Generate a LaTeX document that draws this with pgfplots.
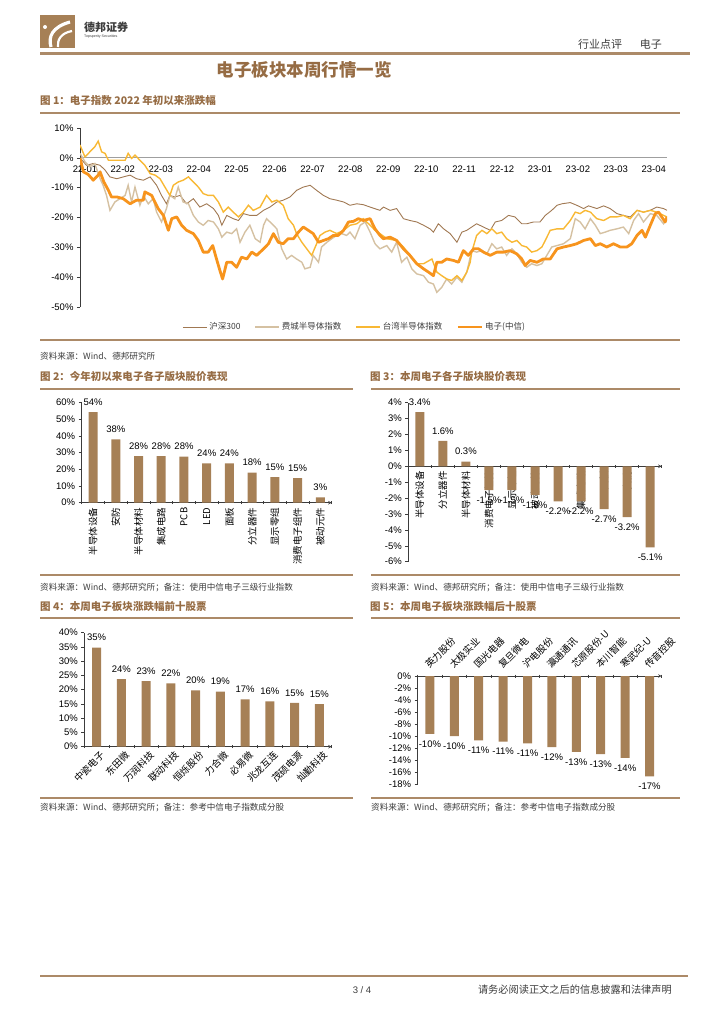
\documentclass[border=0pt]{standalone}
\usepackage{fontspec}
\setmainfont{Liberation Sans}
\newfontfamily\cjk{Noto Sans CJK SC}
\usepackage{pgfplots}
\pgfplotsset{compat=1.18}

\definecolor{barbrown}{RGB}{166,128,86}
\definecolor{rulebrown}{RGB}{172,138,104}
\definecolor{capbrown}{RGB}{150,108,68}
\definecolor{hsline}{RGB}{160,120,82}
\definecolor{feline}{RGB}{213,193,162}
\definecolor{twline}{RGB}{248,184,52}
\definecolor{dzline}{RGB}{247,148,29}
\definecolor{txtgray}{RGB}{60,60,60}

\newcommand{\tf}{\fontsize{9.5}{11}\selectfont}
\newcommand{\cjklab}{\cjk\fontsize{9.5}{10}\selectfont}
\newcommand{\srcf}{\cjk\fontsize{8.6}{10}\selectfont}
\newcommand{\capf}{\cjk\bfseries\fontsize{10.5}{12}\selectfont}

\pgfplotsset{
  barchart/.style={
    scale only axis, anchor=south west, clip=false,
    ybar, bar width=9pt, bar shift=0pt,
    axis y line=left,
    axis line style={-, draw=txtgray, line width=0.6pt},
    tick style={draw=txtgray, line width=0.5pt},
    tick align=outside, major tick length=3pt, minor tick length=3pt,
    every major x tick/.style={draw=none},
    hide obscured x ticks=false, hide obscured y ticks=false,
    tick label style={font=\tf},
    /pgf/number format/assume math mode=true,
    every node near coord/.append style={font=\tf, inner ysep=6.5pt},
  }
}

\begin{document}
\begin{tikzpicture}
\path[use as bounding box] (0pt,0pt) rectangle (724pt,-1024pt);

\begin{scope}[x=1pt,y=-1pt]
  % header
  \fill[barbrown] (40,15) rectangle (75,48);
  \draw[white, line width=3.2pt] (51,47) .. controls (48,37) and (52,27) .. (70,22);
  \draw[white, line width=2.2pt] (58,47) .. controls (57,40) and (61,33) .. (72,31);
  \fill[white] (45,27) circle (2pt);
  \node[anchor=west, font=\cjk\bfseries\fontsize{11}{12}\selectfont, text=txtgray, inner sep=0pt] at (84,27) {德邦证券};
  \node[anchor=west, font=\fontsize{3.6}{4}\selectfont, text=txtgray, inner sep=0pt] at (84,37) {Topsperity Securities};
  \node[anchor=east, font=\cjk\fontsize{11}{12}\selectfont, text=txtgray, inner sep=0pt] at (662,44) {行业点评\hspace{1.6em}电子};
  \draw[rulebrown, line width=2.6pt] (40,53.5) -- (690,53.5);
  \node[font=\cjk\bfseries\fontsize{17.5}{19}\selectfont, text=capbrown] at (304,70) {电子板块本周行情一览};

  % captions and rules
  \node[anchor=west, font=\capf, text=capbrown, inner sep=0pt] at (40,101) {图 1：电子指数 2022 年初以来涨跌幅};
  \draw[rulebrown, line width=1.2pt] (40,113) -- (680,113);
  \draw[rulebrown, line width=1.5pt] (40,340) -- (680,340);
  \node[anchor=west, font=\srcf, text=txtgray, inner sep=0pt] at (40,356) {资料来源：Wind、德邦研究所};

  \node[anchor=west, font=\capf, text=capbrown, inner sep=0pt] at (40,377) {图 2：今年初以来电子各子版块股价表现};
  \node[anchor=west, font=\capf, text=capbrown, inner sep=0pt] at (370,377) {图 3：本周电子各子版块股价表现};
  \draw[rulebrown, line width=1.2pt] (40,389) -- (353,389);
  \draw[rulebrown, line width=1.2pt] (371,389) -- (680,389);
  \draw[rulebrown, line width=1.2pt] (40,575) -- (353,575);
  \draw[rulebrown, line width=1.2pt] (371,575) -- (680,575);
  \node[anchor=west, font=\srcf, text=txtgray, inner sep=0pt] at (40,588) {资料来源：Wind、德邦研究所；备注：使用中信电子三级行业指数};
  \node[anchor=west, font=\srcf, text=txtgray, inner sep=0pt] at (371,588) {资料来源：Wind、德邦研究所；备注：使用中信电子三级行业指数};

  \node[anchor=west, font=\capf, text=capbrown, inner sep=0pt] at (40,607) {图 4：本周电子板块涨跌幅前十股票};
  \node[anchor=west, font=\capf, text=capbrown, inner sep=0pt] at (370,607) {图 5：本周电子板块涨跌幅后十股票};
  \draw[rulebrown, line width=1.2pt] (40,618) -- (353,618);
  \draw[rulebrown, line width=1.2pt] (371,618) -- (680,618);
  \draw[rulebrown, line width=1.2pt] (40,798) -- (353,798);
  \draw[rulebrown, line width=1.2pt] (371,798) -- (680,798);
  \node[anchor=west, font=\srcf, text=txtgray, inner sep=0pt] at (40,808) {资料来源：Wind、德邦研究所；备注：参考中信电子指数成分股};
  \node[anchor=west, font=\srcf, text=txtgray, inner sep=0pt] at (371,808) {资料来源：Wind、德邦研究所；备注：参考中信电子指数成分股};

  % footer
  \draw[rulebrown, line width=2.2pt] (40,976) -- (688,976);
  \node[font=\tf, text=txtgray] at (362,990) {3 / 4};
  \node[anchor=east, font=\cjk\fontsize{10.2}{12}\selectfont, text=txtgray, inner sep=0pt] at (672,990) {请务必阅读正文之后的信息披露和法律声明};
\end{scope}

% ---------- figure 1: index lines ----------
\begin{axis}[
  at={(80pt,-307pt)}, anchor=south west, scale only axis,
  width=587pt, height=179pt,
  xmin=-0.13, xmax=15.35, ymin=-50, ymax=10,
  axis x line=middle, axis y line=left,
  axis line style={-},
  x axis line style={draw=gray!75, line width=1.3pt},
  y axis line style={draw=txtgray, line width=0.6pt},
  hide obscured x ticks=false, hide obscured y ticks=false,
  xtick={0,...,15},
  xticklabels={22-01,22-02,22-03,22-04,22-05,22-06,22-07,22-08,22-09,22-10,22-11,22-12,23-01,23-02,23-03,23-04},
  ytick={-50,-40,...,10},
  yticklabels={-50\%,-40\%,-30\%,-20\%,-10\%,0\%,10\%},
  every major x tick/.style={draw=none},
  tick style={draw=txtgray, line width=0.5pt},
  tick align=outside, major tick length=3pt,
  tick label style={font=\tf},
  xticklabel style={yshift=-1pt},
  legend columns=4,
  legend style={at={(0.468,-0.112)}, anchor=center, draw=none, fill=none,
    font=\cjk\fontsize{8.5}{9}\selectfont, text=txtgray,
    /tikz/every even column/.append style={column sep=12pt}},
  legend image code/.code={\draw[#1] (0pt,0pt) -- (24pt,0pt);},
]
\addplot[hsline, line width=0.9pt] coordinates {
(-0.13,0) (0.04,-2.5) (0.22,-1.9) (0.40,-2.5) (0.53,-4.1) (0.66,-6.4) (0.84,-7.0) (1.01,-6.4)
(1.19,-5.8) (1.36,-7.0) (1.54,-7.5) (1.72,-6.4) (1.89,-9.2) (2.02,-12.6) (2.15,-15.4) (2.24,-12.6)
(2.37,-13.1) (2.51,-12.6) (2.68,-15.4) (2.86,-13.7) (3.03,-16.5) (3.21,-15.4) (3.39,-17.0) (3.52,-19.3)
(3.61,-22.6) (3.74,-19.3) (3.91,-20.4) (4.05,-21.0) (4.18,-18.7) (4.35,-19.3) (4.53,-19.3) (4.71,-17.6)
(4.88,-16.5) (5.06,-14.8) (5.23,-14.2) (5.41,-13.1) (5.58,-10.9) (5.76,-9.8) (5.94,-9.2) (6.11,-10.9)
(6.29,-12.6) (6.46,-13.7) (6.64,-14.2) (6.82,-14.8) (6.99,-15.9) (7.17,-15.4) (7.34,-15.7) (7.52,-16.5)
(7.78,-17.6) (7.87,-16.5) (8.05,-17.6) (8.22,-17.0) (8.40,-20.4) (8.57,-21.0) (8.75,-21.5) (8.93,-22.6)
(9.10,-23.8) (9.19,-24.9) (9.32,-22.1) (9.46,-23.8) (9.63,-25.4) (9.81,-28.3) (9.94,-24.9) (10.07,-24.3)
(10.20,-23.2) (10.33,-22.1) (10.51,-23.2) (10.69,-24.3) (10.82,-21.5) (10.99,-21.0) (11.17,-19.3) (11.34,-19.8)
(11.52,-22.1) (11.65,-22.1) (11.83,-21.5) (12.00,-21.5) (12.14,-19.3) (12.31,-17.6) (12.45,-15.9) (12.58,-15.4)
(12.80,-15.0) (12.97,-15.9) (13.15,-17.0) (13.28,-16.1) (13.50,-17.0) (13.68,-16.1) (13.85,-17.0) (14.03,-18.7)
(14.20,-19.3) (14.38,-19.8) (14.56,-17.6) (14.73,-18.2) (14.91,-17.6) (15.08,-16.5) (15.26,-17.0) (15.35,-17.6)
};
\addlegendentry{沪深300}
\addplot[feline, line width=1.4pt] coordinates {
(-0.13,1.5) (0,-1.3) (0.13,-3.0) (0.26,-1.9) (0.40,-7.0) (0.48,-9.2) (0.57,-12.6) (0.66,-17.6)
(0.79,-14.8) (0.92,-13.7) (1.06,-12.6) (1.14,-9.2) (1.23,-14.8) (1.32,-9.8) (1.45,-15.9) (1.54,-12.6)
(1.67,-15.4) (1.80,-13.7) (1.89,-18.2) (2.02,-21.5) (2.15,-17.0) (2.24,-12.6) (2.37,-13.7) (2.46,-9.8)
(2.59,-14.8) (2.73,-15.4) (2.86,-19.3) (2.99,-21.5) (3.12,-22.6) (3.25,-21.0) (3.39,-21.5) (3.52,-23.8)
(3.61,-26.6) (3.74,-24.9) (3.87,-25.4) (4.00,-23.8) (4.09,-28.3) (4.22,-24.9) (4.35,-22.6) (4.49,-27.1)
(4.62,-28.3) (4.71,-22.6) (4.79,-20.4) (4.93,-22.1) (5.06,-23.8) (5.19,-30.5) (5.32,-33.9) (5.45,-32.7)
(5.58,-33.9) (5.72,-35.0) (5.80,-37.2) (5.94,-36.7) (6.02,-32.7) (6.16,-35.0) (6.24,-29.9) (6.38,-28.3)
(6.51,-27.1) (6.64,-26.0) (6.77,-25.4) (6.90,-26.0) (6.99,-24.9) (7.12,-27.1) (7.26,-22.6) (7.39,-21.5)
(7.52,-24.9) (7.65,-28.8) (7.78,-30.5) (7.96,-29.4) (8.09,-31.6) (8.22,-28.3) (8.35,-35.0) (8.49,-33.3)
(8.62,-37.2) (8.75,-38.9) (8.93,-39.5) (9.06,-41.7) (9.19,-42.3) (9.28,-45.1) (9.41,-43.4) (9.54,-40.6)
(9.67,-42.3) (9.81,-40.0) (9.94,-41.7) (10.07,-38.3) (10.20,-31.1) (10.33,-31.6) (10.47,-31.1) (10.60,-32.2)
(10.73,-28.8) (10.86,-30.5) (10.99,-29.9) (11.12,-32.7) (11.26,-30.5) (11.39,-32.2) (11.52,-35.0) (11.65,-36.7)
(11.78,-35.5) (11.92,-36.1) (12.05,-35.5) (12.18,-32.7) (12.31,-29.9) (12.45,-29.4) (12.62,-28.8) (12.80,-27.1)
(12.93,-20.4) (13.06,-21.5) (13.19,-23.8) (13.33,-20.4) (13.46,-22.6) (13.59,-25.4) (13.72,-24.9) (13.85,-24.3)
(14.03,-23.8) (14.20,-23.2) (14.34,-25.4) (14.47,-21.0) (14.60,-18.7) (14.73,-21.5) (14.91,-18.7) (15.08,-19.3)
(15.26,-22.1) (15.35,-20.4)
};
\addlegendentry{费城半导体指数}
\addplot[twline, line width=1.4pt] coordinates {
(-0.13,4.3) (0,0.3) (0.13,2.0) (0.26,3.7) (0.35,5.6) (0.44,2.0) (0.53,1.5) (0.62,-0.8)
(0.84,-0.8) (1.06,-0.8) (1.14,1.5) (1.23,-0.2) (1.32,0.9) (1.45,-0.8) (1.58,-2.5) (1.72,-5.3)
(1.85,-5.8) (1.98,-7.0) (2.11,-9.8) (2.24,-12.6) (2.33,-9.2) (2.46,-8.1) (2.59,-7.5) (2.73,-6.4)
(2.86,-8.1) (2.99,-9.8) (3.12,-12.0) (3.25,-12.6) (3.39,-12.6) (3.52,-14.8) (3.65,-18.2) (3.78,-16.5)
(3.91,-18.2) (4.05,-19.8) (4.18,-18.2) (4.31,-15.9) (4.44,-17.6) (4.62,-16.5) (4.79,-12.6) (4.93,-14.8)
(5.06,-14.2) (5.23,-15.9) (5.36,-20.4) (5.50,-22.6) (5.58,-25.4) (5.72,-28.3) (5.85,-30.5) (5.98,-32.7)
(6.11,-28.8) (6.20,-26.0) (6.33,-24.9) (6.46,-24.3) (6.64,-25.4) (6.82,-24.3) (6.99,-22.6) (7.17,-22.1)
(7.34,-20.4) (7.52,-22.6) (7.65,-24.3) (7.78,-25.4) (7.96,-27.1) (8.22,-27.7) (8.40,-29.9) (8.57,-32.7)
(8.75,-35.5) (8.93,-35.5) (9.15,-33.9) (9.28,-38.3) (9.41,-39.5) (9.54,-40.6) (9.67,-41.1) (9.81,-39.5)
(9.94,-41.1) (10.07,-38.3) (10.16,-35.0) (10.20,-31.6) (10.33,-26.0) (10.47,-24.3) (10.60,-25.4) (10.73,-23.8)
(10.86,-25.4) (10.99,-24.9) (11.12,-27.1) (11.26,-28.3) (11.39,-27.7) (11.52,-29.4) (11.65,-29.9) (11.78,-31.6)
(11.92,-31.1) (12.05,-29.9) (12.14,-27.7) (12.27,-24.3) (12.45,-23.8) (12.62,-23.8) (12.80,-21.0) (12.93,-18.2)
(13.06,-18.7) (13.19,-17.6) (13.33,-18.2) (13.50,-20.4) (13.68,-21.0) (13.85,-19.8) (14.03,-19.8) (14.20,-19.3)
(14.38,-20.4) (14.56,-17.6) (14.73,-18.2) (14.91,-17.6) (15.08,-18.2) (15.26,-19.3) (15.35,-19.8)
};
\addlegendentry{台湾半导体指数}
\addplot[dzline, line width=2.8pt, line join=round] coordinates {
(-0.13,0) (-0.04,-4.7) (0.09,-5.6) (0.22,-7.5) (0.35,-5.8) (0.40,-4.7) (0.50,-8.1) (0.62,-10.9)
(0.70,-13.1) (0.84,-13.1) (1.01,-13.7) (1.19,-15.4) (1.36,-14.2) (1.54,-14.2) (1.58,-11.4) (1.76,-12.6)
(1.93,-17.0) (2.07,-19.3) (2.20,-24.3) (2.29,-20.4) (2.42,-19.8) (2.55,-22.6) (2.68,-24.3) (2.86,-25.4)
(2.99,-27.7) (3.12,-31.6) (3.25,-31.6) (3.37,-29.4) (3.47,-33.9) (3.56,-37.8) (3.63,-40.6) (3.74,-35.0)
(3.87,-35.0) (4.00,-36.7) (4.13,-33.3) (4.27,-33.9) (4.40,-31.6) (4.53,-32.7) (4.71,-30.5) (4.84,-28.8)
(4.97,-25.4) (5.10,-28.3) (5.23,-28.8) (5.36,-27.1) (5.50,-27.1) (5.63,-24.9) (5.76,-23.2) (5.89,-24.3)
(6.02,-25.4) (6.16,-28.3) (6.29,-27.7) (6.42,-27.1) (6.55,-26.0) (6.68,-26.0) (6.82,-24.3) (6.95,-21.5)
(7.08,-21.3) (7.21,-20.4) (7.34,-21.0) (7.52,-20.4) (7.65,-23.8) (7.78,-26.0) (7.87,-27.1) (8.05,-26.6)
(8.22,-27.7) (8.40,-30.5) (8.57,-32.7) (8.75,-35.5) (8.93,-37.2) (9.06,-38.3) (9.19,-39.5) (9.28,-35.0)
(9.41,-35.0) (9.54,-33.9) (9.72,-34.4) (9.85,-35.0) (9.98,-31.1) (10.11,-32.7) (10.25,-30.5) (10.38,-30.5)
(10.51,-31.6) (10.69,-32.7) (10.86,-31.6) (11.04,-31.6) (11.21,-31.1) (11.39,-32.2) (11.52,-33.9) (11.61,-36.1)
(11.74,-34.4) (11.92,-35.0) (12.09,-33.9) (12.27,-33.9) (12.45,-30.5) (12.62,-29.9) (12.80,-29.4) (12.97,-28.8)
(13.15,-27.7) (13.33,-27.1) (13.46,-29.4) (13.59,-28.8) (13.76,-29.9) (13.94,-28.8) (14.12,-29.9) (14.29,-29.9)
(14.42,-28.8) (14.56,-26.0) (14.69,-24.3) (14.78,-26.6) (14.91,-22.6) (15.04,-18.7) (15.13,-18.2) (15.21,-19.8)
(15.30,-21.5) (15.35,-19.8)
};
\addlegendentry{电子(中信)}
\end{axis}

% ---------- figure 2: YTD by sub-sector ----------
\begin{axis}[barchart,
  at={(81.7pt,-502.7pt)}, width=250pt, height=100pt,
  axis x line=bottom,
  xmin=-0.5, xmax=10.5, ymin=0, ymax=60,
  ytick={0,10,...,60},
  yticklabels={0\%,10\%,20\%,30\%,40\%,50\%,60\%},
  xtick={0,...,10},
  xticklabels={半导体设备,安防,半导体材料,集成电路,PCB,LED,面板,分立器件,显示零组,消费电子组件,被动元件},
  xticklabel style={rotate=90, anchor=east, font=\cjklab},
  minor xtick={-0.5,0.5,...,10.5},
  nodes near coords={\pgfmathprintnumber[fixed,precision=0]{\pgfplotspointmeta}\%},
]
\addplot[fill=barbrown, draw=none] coordinates {
(0,54.4) (1,38.0) (2,28.0) (3,28.0) (4,27.6) (5,23.6) (6,23.6) (7,18.0) (8,15.4) (9,14.8) (10,3.2)
};
\end{axis}

% ---------- figure 3: this week by sub-sector ----------
\begin{axis}[barchart,
  at={(408.3pt,-561.7pt)}, width=253.4pt, height=159pt,
  axis x line=middle,
  xmin=-0.5, xmax=10.5, ymin=-6, ymax=4,
  ytick={-6,-5,...,4},
  yticklabels={-6\%,-5\%,-4\%,-3\%,-2\%,-1\%,0\%,1\%,2\%,3\%,4\%},
  xtick={0,...,10},
  xticklabels={半导体设备,分立器件,半导体材料,消费电子组件,显示零组,被动元件,LED,集成电路,面板,安防,PCB},
  xticklabel style={rotate=90, anchor=east, font=\cjklab},
  minor xtick={-0.5,0.5,...,10.5},
  nodes near coords={\pgfmathprintnumber[fixed,precision=1,fixed zerofill]{\pgfplotspointmeta}\%},
]
\addplot[fill=barbrown, draw=none] coordinates {
(0,3.4) (1,1.6) (2,0.3) (3,-1.5) (4,-1.5) (5,-1.8) (6,-2.2) (7,-2.2) (8,-2.7) (9,-3.2) (10,-5.1)
};
\end{axis}

% ---------- figure 4: top ten stocks ----------
\begin{axis}[barchart,
  at={(84.3pt,-746.7pt)}, width=247.4pt, height=114pt,
  axis x line=bottom,
  xmin=-0.5, xmax=9.5, ymin=0, ymax=40,
  ytick={0,5,...,40},
  yticklabels={0\%,5\%,10\%,15\%,20\%,25\%,30\%,35\%,40\%},
  xtick={0,...,9},
  xticklabels={中瓷电子,东田微,万润科技,联动科技,恒烁股份,力合微,必易微,兆龙互连,茂硕电源,灿勤科技},
  xticklabel style={rotate=45, anchor=north east, font=\cjklab, xshift=4pt},
  minor xtick={-0.5,0.5,...,9.5},
  nodes near coords={\pgfmathprintnumber[fixed,precision=0]{\pgfplotspointmeta}\%},
]
\addplot[fill=barbrown, draw=none] coordinates {
(0,34.8) (1,23.7) (2,23.0) (3,22.2) (4,19.8) (5,19.3) (6,16.6) (7,15.9) (8,15.4) (9,14.9)
};
\end{axis}

% ---------- figure 5: bottom ten stocks ----------
\begin{axis}[barchart,
  at={(417.7pt,-784.3pt)}, width=244pt, height=108.3pt,
  axis x line=top,
  xmin=-0.5, xmax=9.5, ymin=-18, ymax=0,
  ytick={-18,-16,...,0},
  yticklabels={-18\%,-16\%,-14\%,-12\%,-10\%,-8\%,-6\%,-4\%,-2\%,0\%},
  xtick={0,...,9},
  xticklabels={英力股份,太极实业,国光电器,复旦微电,沪电股份,瀛通通讯,芯原股份-U,本川智能,寒武纪-U,传音控股},
  xticklabel style={rotate=45, anchor=south west, font=\cjklab},
  minor xtick={-0.5,0.5,...,9.5},
  nodes near coords={\pgfmathprintnumber[fixed,precision=0]{\pgfplotspointmeta}\%},
]
\addplot[fill=barbrown, draw=none] coordinates {
(0,-9.6) (1,-10.0) (2,-10.7) (3,-10.9) (4,-11.2) (5,-11.8) (6,-12.6) (7,-13.0) (8,-13.6) (9,-16.7)
};
\end{axis}
\end{tikzpicture}
\end{document}
